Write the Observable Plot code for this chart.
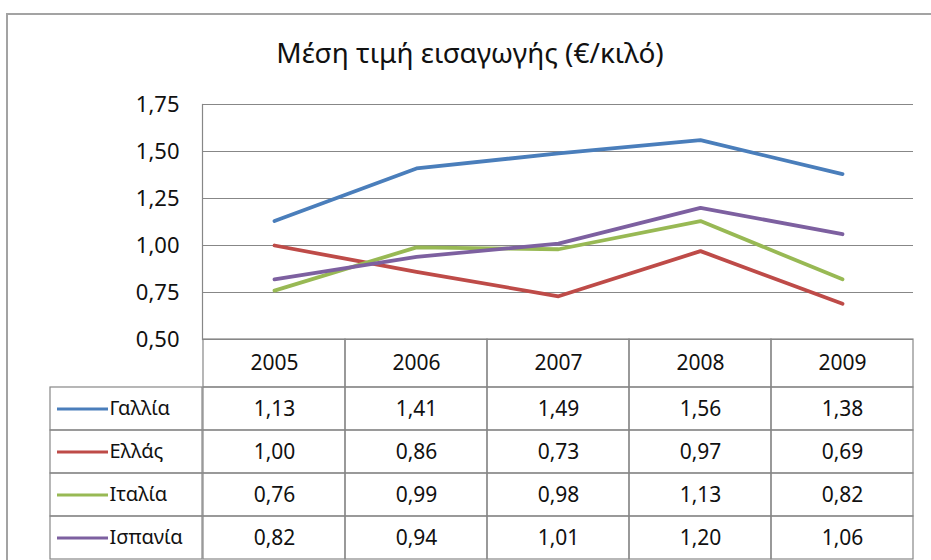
<!DOCTYPE html>
<html>
<head>
<meta charset="utf-8">
<script src="https://cdn.jsdelivr.net/npm/d3@7"></script>
<script src="https://cdn.jsdelivr.net/npm/@observablehq/plot@0.6"></script>
<style>
  html, body { margin: 0; padding: 0; background: #fff; overflow: hidden; width: 931px; height: 560px; }
  #wrap { position: relative; width: 931px; height: 560px; overflow: hidden; font-family: "Noto Sans", sans-serif; color: #111; }
  #frame { position: absolute; left: 6px; top: 13px; width: 1000px; height: 1000px; border-top: 2px solid #a3a3a3; border-left: 2px solid #a3a3a3; box-sizing: border-box; }
  #title { position: absolute; left: 0; width: 940px; top: 34px; text-align: center; font-size: 28px; line-height: 37px; }
  .part { position: absolute; }
</style>
</head>
<body>
<div id="wrap">
  <div id="frame"></div>
  <div id="title">Μέση τιμή εισαγωγής (€/κιλό)</div>
  <div class="part" id="header" style="left:0;top:339px"></div>
  <div class="part" id="body" style="left:0;top:387px"></div>
  <div class="part" id="rowhead" style="left:50px;top:387px"></div>
  <div class="part" id="chart" style="left:0;top:0"></div>
</div>
<script>
// ---- data ----
const years = ["2005", "2006", "2007", "2008", "2009"];
const countries = ["Γαλλία", "Ελλάς", "Ιταλία", "Ισπανία"];
const gallia  = [1.13, 1.41, 1.49, 1.56, 1.38];
const ellas   = [1.00, 0.86, 0.73, 0.97, 0.69];
const italia  = [0.76, 0.99, 0.98, 1.13, 0.82];
const ispania = [0.82, 0.94, 1.01, 1.20, 1.06];
const yTicks = [0.5, 0.75, 1.0, 1.25, 1.5, 1.75];
const colors = ["#4A7EBB", "#BE4B48", "#98B954", "#7D60A0"];

const series = [gallia, ellas, italia, ispania];
const rows = countries.flatMap((c, i) => years.map((y, j) => ({country: c, year: y, value: series[i][j]})));

const locale = d3.formatLocale({decimal: ",", thousands: ".", grouping: [3], currency: ["", "€"]});
const fmt = locale.format(".2f");

const FONT = "Noto Sans, sans-serif";
const GRID = "#878787";
const baseStyle = {background: "transparent", overflow: "visible", fontFamily: FONT, color: "#111"};
const colorScale = {domain: countries, range: colors};

// ---- line chart ----
const chart = Plot.plot({
  width: 931, height: 362,
  marginLeft: 202, marginRight: 18, marginTop: 104, marginBottom: 23,
  style: {...baseStyle, fontSize: "22px"},
  x: {type: "band", domain: years, padding: 0, axis: null},
  y: {domain: [0.5, 1.75]},
  color: colorScale,
  marks: [
    Plot.gridY(yTicks, {stroke: GRID, strokeOpacity: 1, strokeWidth: 1.2}),
    Plot.axisY(yTicks, {tickSize: 0, tickPadding: 23, tickFormat: fmt, label: null, fontSize: 22}),
    Plot.frame({anchor: "left", stroke: GRID, strokeWidth: 1.2}),
    Plot.line(rows, {x: "year", y: "value", z: "country", stroke: "country", strokeWidth: 3.8, strokeLinejoin: "round"})
  ]
});
document.getElementById("chart").appendChild(chart);

// ---- table header (years) ----
const header = Plot.plot({
  width: 931, height: 48,
  marginLeft: 202, marginRight: 18, marginTop: 0, marginBottom: 0,
  style: {...baseStyle, fontSize: "21px"},
  x: {type: "band", domain: years, padding: 0, axis: null},
  marks: [
    Plot.cell(years, {x: d => d, fill: "none", stroke: GRID, strokeWidth: 1.2}),
    Plot.text(years, {x: d => d, text: d => d, frameAnchor: "middle", fontSize: 21, fill: "#111"})
  ]
});
document.getElementById("header").appendChild(header);

// ---- table body (values) ----
const body = Plot.plot({
  width: 931, height: 172,
  marginLeft: 202, marginRight: 18, marginTop: 0, marginBottom: 0,
  style: {...baseStyle, fontSize: "21px"},
  x: {type: "band", domain: years, padding: 0, axis: null},
  y: {type: "band", domain: countries, padding: 0, axis: null},
  marks: [
    Plot.cell(rows, {x: "year", y: "country", fill: "none", stroke: GRID, strokeWidth: 1.2}),
    Plot.text(rows, {x: "year", y: "country", text: d => fmt(d.value), fontSize: 21, fill: "#111"})
  ]
});
document.getElementById("body").appendChild(body);

// ---- row headers with legend keys ----
const rowhead = Plot.plot({
  width: 152, height: 172,
  marginLeft: 0, marginRight: 0, marginTop: 0, marginBottom: 0,
  style: {...baseStyle, fontSize: "20px"},
  y: {type: "band", domain: countries, padding: 0, axis: null},
  color: colorScale,
  marks: [
    Plot.cell(countries, {y: d => d, fill: "none", stroke: GRID, strokeWidth: 1.2}),
    Plot.ruleY(countries, {y: d => d, stroke: d => d, strokeWidth: 3.2, insetLeft: 7, insetRight: 94}),
    Plot.text(countries, {y: d => d, text: d => d, frameAnchor: "left", textAnchor: "start", dx: 59, fontSize: 20, fill: "#111"})
  ]
});
document.getElementById("rowhead").appendChild(rowhead);
</script>
</body>
</html>
